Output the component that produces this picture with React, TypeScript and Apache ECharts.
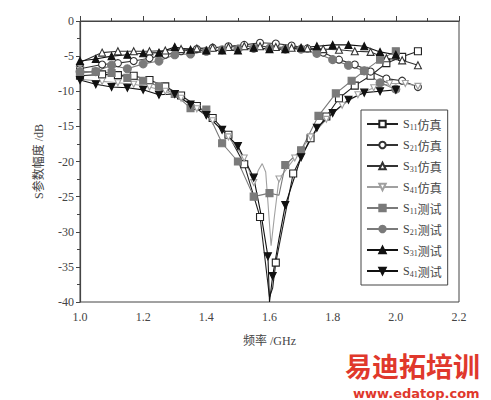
import React, { useEffect, useRef } from "react";
import * as echarts from "echarts";

// ---------- data ----------
const xTicks = [1.0, 1.2, 1.4, 1.6, 1.8, 2.0, 2.2];
const yTicks = [0, -5, -10, -15, -20, -25, -30, -35, -40];

const seriesNames = ["S11仿真", "S21仿真", "S31仿真", "S41仿真", "S11测试", "S21测试", "S31测试", "S41测试"];

// marked points [GHz, dB]
const s11Sim = [[1.0, -7.8], [1.07, -7.6], [1.12, -7.7], [1.17, -7.8], [1.22, -8.4], [1.27, -9.3], [1.32, -10.6], [1.37, -12.1], [1.42, -13.8], [1.47, -16.2], [1.52, -20.4], [1.57, -27.9], [1.62, -34.4], [1.675, -21.7], [1.73, -16.7], [1.78, -13.6], [1.82, -11.0], [1.87, -9.2], [1.92, -7.8], [1.97, -6.0], [2.02, -5.1], [2.07, -4.3]];
const s11SimDip = [[1.59, -35.5], [1.6, -39.3], [1.61, -38.0]];

const s21Sim = [[1.0, -6.8], [1.07, -6.2], [1.12, -6.0], [1.17, -5.7], [1.22, -5.3], [1.27, -4.8], [1.32, -4.3], [1.37, -4.0], [1.42, -3.8], [1.47, -3.6], [1.52, -3.4], [1.57, -3.1], [1.62, -3.2], [1.67, -3.5], [1.72, -3.9], [1.77, -4.5], [1.82, -5.5], [1.87, -6.2], [1.92, -7.2], [1.97, -8.2], [2.02, -8.5], [2.07, -9.4]];

const s31Sim = [[1.0, -5.9], [1.07, -4.5], [1.12, -4.3], [1.17, -4.3], [1.22, -4.3], [1.27, -4.2], [1.32, -4.0], [1.37, -3.9], [1.42, -3.8], [1.47, -3.7], [1.52, -3.6], [1.57, -3.6], [1.62, -3.7], [1.67, -3.8], [1.72, -3.9], [1.77, -4.0], [1.82, -4.1], [1.87, -4.3], [1.92, -4.4], [1.97, -5.3], [2.02, -5.6], [2.07, -6.3]];

const s41Sim = [[1.0, -8.3], [1.07, -8.6], [1.12, -8.8], [1.17, -9.0], [1.22, -9.4], [1.27, -10.0], [1.32, -11.0], [1.37, -12.5], [1.42, -14.2], [1.47, -16.5], [1.52, -19.5], [1.55, -23.0], [1.63, -22.5], [1.68, -19.5], [1.73, -16.5], [1.78, -14.0], [1.83, -12.0], [1.88, -10.5], [1.93, -9.5], [1.98, -8.9], [2.03, -8.9], [2.07, -9.3]];
const s41SimDip = [[1.565, -21.2], [1.577, -20.3], [1.588, -21.5], [1.597, -27.0], [1.605, -32.0], [1.615, -28.0]];

const s11Test = [[1.0, -7.4], [1.05, -7.2], [1.1, -7.4], [1.15, -8.1], [1.2, -8.5], [1.25, -9.3], [1.3, -10.4], [1.35, -12.4], [1.4, -12.6], [1.45, -17.4], [1.5, -20.0], [1.55, -25.0], [1.6, -24.5], [1.65, -20.5], [1.7, -18.4], [1.755, -13.5], [1.81, -10.3], [1.86, -8.5], [1.9, -7.1], [1.95, -5.5], [2.0, -4.3]];
const s11TestDip = [[1.63, -24.8]];

const s21Test = [[1.0, -7.2], [1.05, -7.2], [1.1, -6.3], [1.15, -6.8], [1.2, -6.1], [1.25, -5.7], [1.3, -4.8], [1.35, -4.7], [1.4, -4.3], [1.45, -4.1], [1.5, -4.0], [1.55, -3.9], [1.6, -3.9], [1.65, -4.0], [1.7, -4.0], [1.75, -4.6], [1.8, -5.5], [1.85, -6.3], [1.9, -7.1], [1.95, -8.8], [2.0, -9.7]];

const s31Test = [[1.0, -5.7], [1.05, -5.4], [1.1, -5.0], [1.15, -4.8], [1.2, -4.6], [1.25, -4.5], [1.3, -3.7], [1.35, -4.1], [1.4, -4.2], [1.45, -4.2], [1.5, -4.2], [1.55, -3.8], [1.6, -4.0], [1.65, -4.0], [1.7, -3.8], [1.75, -3.6], [1.8, -3.4], [1.85, -3.4], [1.9, -3.6], [1.95, -4.4], [2.0, -4.8]];

const s41Test = [[1.0, -8.4], [1.05, -9.0], [1.1, -9.4], [1.15, -9.5], [1.2, -9.8], [1.25, -10.5], [1.3, -10.4], [1.35, -11.9], [1.4, -13.4], [1.45, -15.5], [1.5, -17.8], [1.55, -22.3], [1.595, -33.5], [1.61, -36.3], [1.65, -26.2], [1.7, -19.4], [1.75, -15.2], [1.8, -13.1], [1.85, -11.2], [1.9, -10.2], [1.95, -10.0], [2.0, -9.8]];
const s41TestDip = [[1.575, -28.0], [1.6, -40.0], [1.63, -31.0]];

// ---------- helpers ----------
function build(marked: number[][], bare: number[][] = []) {
  const items = [
    ...marked.map((p) => ({ value: p })),
    ...bare.map((p) => ({ value: p, symbol: "none" })),
  ];
  items.sort((a, b) => a.value[0] - b.value[0]);
  return items;
}

const SERIF = "'Liberation Serif', 'Times New Roman', 'Noto Sans CJK SC', serif";
const CJK = "'Noto Sans CJK SC', serif";

export default function App() {
  const ref = useRef<HTMLDivElement>(null);
  useEffect(() => {
    if (!ref.current) return;
    const chart = echarts.init(ref.current, null, { renderer: "svg" });

    const mk = (
      name: string,
      marked: number[][],
      bare: number[][],
      symbol: string,
      lineColor: string,
      fill: string,
      border: string,
      symbolRotate = 0,
      size = 7
    ) => ({
      name,
      type: "line",
      data: build(marked, bare),
      symbol,
      symbolSize: size,
      symbolRotate,
      showAllSymbol: true,
      lineStyle: { color: lineColor, width: 1.1 },
      itemStyle: { color: fill, borderColor: border, borderWidth: 1.1 },
      z: 3,
    });

    const GRAY = "#7a7a7a";
    const LGRAY = "#a0a0a0";

    const series = [
      mk(seriesNames[0], s11Sim, s11SimDip, "rect", "#222", "#fff", "#222"),
      mk(seriesNames[1], s21Sim, [], "circle", "#333", "#fff", "#333"),
      mk(seriesNames[2], s31Sim, [], "triangle", "#333", "#fff", "#333"),
      mk(seriesNames[3], s41Sim, s41SimDip, "triangle", LGRAY, "#fff", LGRAY, 180, 6),
      mk(seriesNames[4], s11Test, s11TestDip, "rect", GRAY, GRAY, GRAY),
      mk(seriesNames[5], s21Test, [], "circle", GRAY, GRAY, GRAY, 0, 8),
      mk(seriesNames[6], s31Test, [], "triangle", "#111", "#111", "#111"),
      mk(seriesNames[7], s41Test, s41TestDip, "triangle", "#111", "#111", "#111", 180),
    ];

    const option: any = {
      animation: false,
      backgroundColor: "#fff",
      grid: {
        left: 72,
        right: 40,
        top: 13,
        bottom: 106,
        show: true,
        borderColor: "#444",
        borderWidth: 1,
        backgroundColor: "transparent",
      },
      xAxis: {
        type: "value",
        min: xTicks[0],
        max: xTicks[xTicks.length - 1],
        interval: 0.2,
        name: "频率 /GHz",
        nameLocation: "middle",
        nameGap: 33,
        nameTextStyle: { fontFamily: SERIF, fontSize: 12, color: "#444" },
        axisLine: { show: true, lineStyle: { color: "#444", width: 1.2 } },
        axisTick: { show: true, inside: true, length: 5, lineStyle: { color: "#444" } },
        minorTick: { show: true, splitNumber: 2, length: 3, lineStyle: { color: "#444" } },
        splitLine: { show: false },
        axisLabel: {
          fontFamily: SERIF,
          fontSize: 12,
          color: "#444",
          margin: 9,
          formatter: (v: number) => v.toFixed(1),
        },
      },
      yAxis: {
        type: "value",
        min: yTicks[yTicks.length - 1],
        max: yTicks[0],
        interval: 5,
        name: "S参数幅度 /dB",
        nameLocation: "middle",
        nameGap: 35,
        nameRotate: 90,
        nameTextStyle: { fontFamily: SERIF, fontSize: 12, color: "#444" },
        axisLine: { show: true, lineStyle: { color: "#444", width: 1.2 } },
        axisTick: { show: true, inside: false, length: 4, lineStyle: { color: "#444" } },
        minorTick: { show: true, splitNumber: 2, length: 3, lineStyle: { color: "#444" } },
        splitLine: { show: false },
        axisLabel: { fontFamily: SERIF, fontSize: 12, color: "#444", margin: 6 },
      },
      legend: {
        orient: "vertical",
        left: 353,
        top: 102,
        data: seriesNames,
        itemWidth: 31,
        itemHeight: 8,
        itemGap: 7,
        padding: [7, 6, 7, 5],
        borderColor: "#444",
        borderWidth: 1,
        backgroundColor: "#fff",
        selectedMode: false,
        formatter: (name: string) => `{s|S}{sub|${name.slice(1, 3)}}{t|${name.slice(3)}}`,
        textStyle: {
          color: "#444",
          lineHeight: 14,
          rich: {
            s: { fontFamily: SERIF, fontSize: 12, color: "#444", lineHeight: 14 },
            sub: { fontFamily: SERIF, fontSize: 8, color: "#444", lineHeight: 14, verticalAlign: "bottom" },
            t: { fontFamily: CJK, fontSize: 12, color: "#444", lineHeight: 14 },
          },
        },
      },
      graphic: [
        {
          type: "text",
          left: 337,
          top: 344,
          style: {
            text: "易迪拓培训",
            font: "bold 27px 'Noto Sans CJK SC'",
            fill: "#e0382c",
          },
          z: 10,
        },
        {
          type: "text",
          left: 345,
          top: 379,
          style: {
            text: "www.edatop.com",
            font: "bold 13px 'DejaVu Sans'",
            fill: "#e0382c",
          },
          z: 10,
        },
      ],
      series,
    };
    chart.setOption(option);
    return () => chart.dispose();
  }, []);
  return <div ref={ref} style={{ width: 491, height: 400 }} />;
}
